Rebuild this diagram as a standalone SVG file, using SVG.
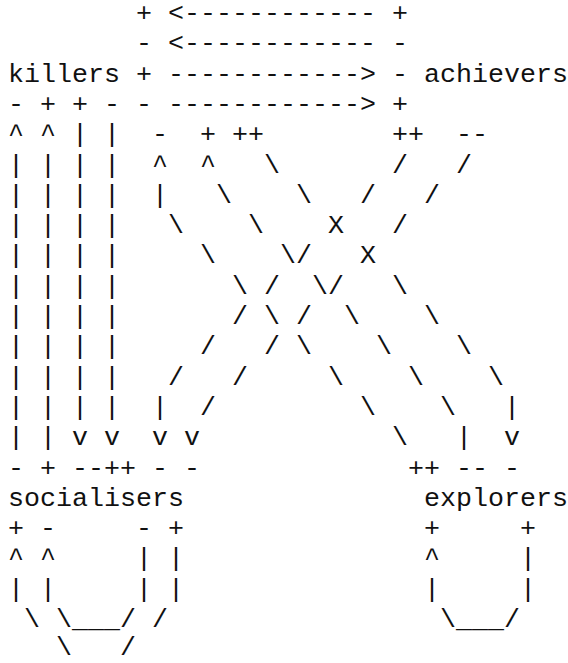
<svg xmlns="http://www.w3.org/2000/svg" width="568" height="663" viewBox="0 0 568 663">
<style>
text { font-family: "Liberation Mono", "DejaVu Sans Mono", monospace; font-size: 26.667px; fill: #111; white-space: pre; }
</style>
<rect width="568" height="663" fill="#fff"/>
<g id="killers"><text x="8" y="81.6" xml:space="preserve">killers</text></g>
<g id="achievers"><text x="424" y="81.6" xml:space="preserve">achievers</text></g>
<g id="socialisers"><text x="8" y="505.8" xml:space="preserve">socialisers</text></g>
<g id="explorers"><text x="424" y="505.8" xml:space="preserve">explorers</text></g>
<g id="connectors">
<text x="136" y="21" xml:space="preserve">+ &lt;------------ +</text>
<text x="136" y="51.3" xml:space="preserve">- &lt;------------ -</text>
<text x="136" y="81.6" xml:space="preserve">+ ------------&gt; -</text>
<text x="8" y="111.9" xml:space="preserve">- + + - - ------------&gt; +</text>
<text x="8" y="142.2" xml:space="preserve">^ ^ | |  -  + ++        ++  --</text>
<text x="8" y="172.5" xml:space="preserve">| | | |  ^  ^   \       /   /</text>
<text x="8" y="202.8" xml:space="preserve">| | | |  |   \    \   /   /</text>
<text x="8" y="233.1" xml:space="preserve">| | | |   \    \    X   /</text>
<text x="8" y="263.4" xml:space="preserve">| | | |     \    \/   X</text>
<text x="8" y="293.7" xml:space="preserve">| | | |       \ /  \/   \</text>
<text x="8" y="324" xml:space="preserve">| | | |       / \ /  \    \</text>
<text x="8" y="354.3" xml:space="preserve">| | | |     /   / \    \    \</text>
<text x="8" y="384.6" xml:space="preserve">| | | |   /   /     \    \    \</text>
<text x="8" y="414.9" xml:space="preserve">| | | |  |  /         \    \   |</text>
<text x="8" y="445.2" xml:space="preserve">| | v v  v v            \   |  v</text>
<text x="8" y="475.5" xml:space="preserve">- + --++ - -             ++ -- -</text>
<text x="8" y="536.1" xml:space="preserve">+ -     - +               +     +</text>
<text x="8" y="566.4" xml:space="preserve">^ ^     | |               ^     |</text>
<text x="8" y="596.7" xml:space="preserve">| |     | |               |     |</text>
<text x="8" y="627" xml:space="preserve"> \ \___/ /                 \___/</text>
<text x="56" y="655" xml:space="preserve">\   /</text>
</g>
</svg>
